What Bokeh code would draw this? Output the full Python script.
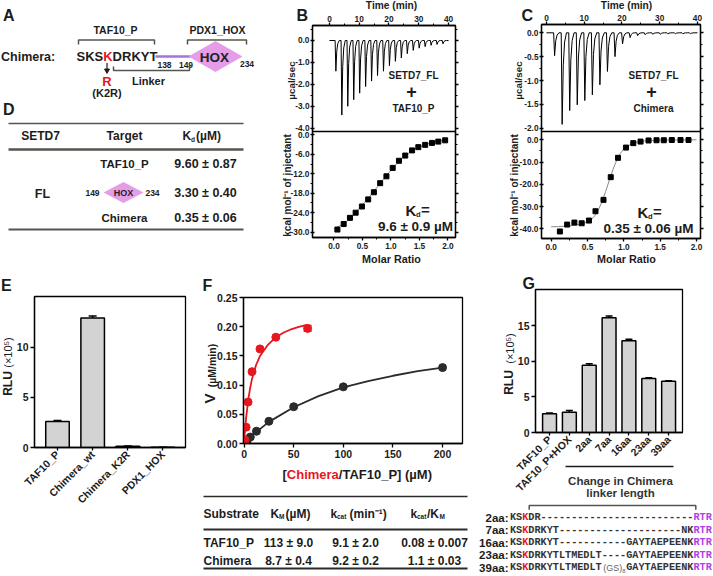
import math
from bokeh.plotting import figure
from bokeh.layouts import column
from bokeh.models import (Range1d, LinearAxis, FixedTicker, PrintfTickFormatter,
                          Whisker, TeeHead, ColumnDataSource)
from bokeh.core.properties import value
from bokeh.embed import file_html
from bokeh.resources import INLINE

# ---------------------------------------------------------------- data
# D: binding table
d_targets = ["TAF10_P", "HOX", "Chimera"]
d_kd = [9.60, 3.30, 0.35]
d_kd_err = [0.87, 0.40, 0.06]

# B / C: raw ITC thermograms (injection time, min ; peak, ucal/sec)
inj_time = [2, 4, 6, 8, 10, 12, 14, 16, 18, 20, 22, 24, 26, 28, 30, 32, 34, 36, 38]
b_raw = [-1.40, -3.40, -3.00, -2.70, -2.40, -2.10, -1.85, -1.60, -1.40, -1.15,
         -0.95, -0.80, -0.60, -0.45, -0.35, -0.28, -0.22, -0.18, -0.15]
c_raw = [-0.48, -1.92, -1.63, -1.51, -1.42, -1.30, -1.09, -0.81, -0.50, -0.23,
         -0.10, -0.06, -0.04, -0.03, -0.03, -0.02, -0.02, -0.02, -0.02]

# B / C: integrated heats (molar ratio ; kcal/mol of injectant)
b_ratio = [0.06, 0.17, 0.28, 0.38, 0.49, 0.60, 0.70, 0.81, 0.92, 1.03, 1.14, 1.25,
           1.37, 1.48, 1.60, 1.72, 1.83, 1.95]
b_heat = [-29.2, -27.5, -25.6, -24.0, -22.1, -19.9, -17.7, -14.9, -12.8, -10.2, -8.0,
          -6.4, -4.8, -3.8, -3.1, -2.5, -2.1, -1.7]
b_fit_ratio = [0.0, 0.1, 0.2, 0.3, 0.4, 0.5, 0.6, 0.7, 0.8, 0.9, 1.0, 1.1, 1.2, 1.3,
               1.4, 1.5, 1.6, 1.7, 1.8, 1.9, 2.0]
b_fit_heat = [-28.9, -28.1, -27.0, -25.5, -23.6, -21.6, -19.6, -17.4, -15.2, -13.0,
              -10.9, -8.9, -7.2, -5.8, -4.6, -3.7, -3.0, -2.5, -2.1, -1.8, -1.6]
c_ratio = [0.12, 0.22, 0.32, 0.42, 0.52, 0.61, 0.72, 0.82, 0.92, 1.03, 1.13, 1.23,
           1.34, 1.45, 1.55, 1.66, 1.78, 1.89]
c_heat = [-41.2, -38.1, -37.2, -37.5, -36.3, -32.1, -27.0, -16.8, -8.1, -3.5, -1.5,
          -0.8, -0.3, -0.2, -0.2, -0.1, -0.1, -0.1]
c_fit_ratio = [0.0, 0.1, 0.2, 0.3, 0.4, 0.5, 0.55, 0.6, 0.65, 0.7, 0.75, 0.8, 0.85,
               0.9, 0.95, 1.0, 1.1, 1.2, 1.3, 1.5, 1.7, 2.0]
c_fit_heat = [-39.1, -39.0, -38.8, -38.5, -38.0, -37.0, -36.0, -34.2, -31.5, -27.8,
              -23.2, -18.2, -13.4, -9.3, -6.2, -4.1, -1.9, -0.9, -0.45, -0.15, -0.05, 0.0]

# E: luciferase assay
e_cats = ["TAF10_P", "Chimera_wt", "Chimera_K2R", "PDX1_HOX"]
e_vals = [2.6, 12.9, 0.12, 0.03]
e_errs = [0.08, 0.2, 0.03, 0.0]

# F: kinetics
taf_s = [0, 3.125, 6.25, 12.5, 25, 50, 100, 200]
taf_v = [0.0, 0.005, 0.011, 0.021, 0.038, 0.063, 0.097, 0.130]
chi_s = [0, 1, 2, 4, 8, 16, 32, 64]
chi_v = [0.001, 0.006, 0.028, 0.071, 0.123, 0.162, 0.182, 0.197]
chi_err = [0, 0, 0, 0, 0, 0, 0, 0.005]
taf_fit_s = [0, 10, 25, 50, 75, 100, 125, 150, 175, 200]
taf_fit_v = [0.0, 0.0165, 0.037, 0.062, 0.081, 0.096, 0.107, 0.116, 0.124, 0.130]
chi_fit_s = [0, 1, 2, 4, 6, 8, 12, 16, 24, 32, 40, 48, 56, 64]
chi_fit_v = [0.0, 0.024, 0.043, 0.073, 0.094, 0.111, 0.134, 0.150, 0.169, 0.182,
             0.190, 0.196, 0.200, 0.203]
f_substrates = ["TAF10_P", "Chimera"]
f_km = ["113 ± 9.0", "8.7 ± 0.4"]
f_kcat = ["9.1 ± 2.0", "9.2 ± 0.2"]
f_eff = ["0.08 ± 0.007", "1.1 ± 0.03"]

# G: linker length series
g_cats = ["TAF10_P", "TAF10_P+HOX", "2aa", "7aa", "16aa", "23aa", "39aa"]
g_vals = [2.65, 2.85, 9.45, 16.1, 12.9, 7.6, 7.2]
g_errs = [0.08, 0.25, 0.2, 0.25, 0.2, 0.1, 0.08]
seq_names = ["2aa", "7aa", "16aa", "23aa", "39aa"]
seq_texts = [
    "KSKDR" "-----" "-----" "-----" "-----" "-----" "RTR",
    "KSKDRKYT" "-----" "-----" "-----" "-----" "NK" "RTR",
    "KSKDRKYT" "-----" "-----" "-" "GAYTAEPEENK" "RTR",
    "KSKDRKYTLTMEDLT" "----" "GAYTAEPEENK" "RTR",
    "KSKDRKYTLTMEDLT" "####" "GAYTAEPEENK" "RTR",
]

# ---------------------------------------------------------------- style
W, H = 713, 576
SANS = "Liberation Sans"
MONO = "Liberation Mono"
INK = "#1c1c1c"
RULE = "#55554d"
RED = "#e8161d"
PURPLE = "#b13fe3"
LINKER = "#a673d9"
HOXFILL = "#e49de6"
BAR = "#d3d3d3"
DARK = "#2b2b2b"


def X(v):
    return int(round(v))


def Y(v):
    return int(round(v))


def px(s):
    return f"{s:.2f}px"


def base_fig(box, frame, xr, yr):
    x0, x1, y0, y1 = box
    fl, fr, ft, fb = frame
    p = figure(width=X(x1) - X(x0), height=Y(y1) - Y(y0),
               x_range=Range1d(*xr), y_range=Range1d(*yr),
               output_backend="svg", toolbar_location=None,
               x_axis_location=None, y_axis_location=None,
               min_border=0,
               min_border_left=X(fl) - X(x0), min_border_right=X(x1) - X(fr),
               min_border_top=Y(ft) - Y(y0), min_border_bottom=Y(y1) - Y(fb))
    p.xgrid.visible = False
    p.ygrid.visible = False
    return p


charts = []


def chart(box, frame, xr, yr):
    p = base_fig(box, frame, xr, yr)
    p.border_fill_color = None
    p.background_fill_color = None
    p.outline_line_color = "black"
    p.outline_line_width = 1.3
    charts.append((p, box))
    return p


def ctext(p, x, y, s, size, color=INK, align="center", font=SANS, style="bold", angle=0.0):
    p.text(x=[x], y=[y], text=[s], text_font=value(font), text_font_size=px(size),
           text_font_style=style, text_color=color, text_align=align,
           text_baseline="middle", angle=angle)


def axis(p, side, ticks, minor=(), fmt=None, size=9.0, show=True, tick_out=3, tick_in=0,
         overrides=None, orient=None, standoff=2):
    ax = LinearAxis(ticker=FixedTicker(ticks=list(ticks), minor_ticks=list(minor)))
    ax.axis_line_color = "black"
    ax.axis_line_width = 1.3
    ax.major_tick_line_color = "black"
    ax.major_tick_line_width = 1.3
    ax.major_tick_in = tick_in
    ax.major_tick_out = tick_out
    ax.minor_tick_line_color = "black" if len(minor) else None
    ax.minor_tick_line_width = 1
    ax.minor_tick_in = 0
    ax.minor_tick_out = 2
    ax.major_label_standoff = standoff
    ax.major_label_text_font = SANS
    ax.major_label_text_font_style = "bold"
    ax.major_label_text_color = INK
    ax.major_label_text_font_size = px(size)
    if fmt:
        ax.formatter = PrintfTickFormatter(format=fmt)
    if not show:
        ax.major_label_overrides = {t: "" for t in ticks}
        ax.major_label_standoff = 0
    elif overrides:
        ax.major_label_overrides = overrides
    if orient is not None:
        ax.major_label_orientation = orient
    p.add_layout(ax, side)
    return ax


def thermo(times, peaks):
    xs, ys = [0.0], [0.0]
    for t, h in zip(times, peaks):
        xs += [t - 0.1, t + 0.15, t + 0.45, t + 0.8, t + 1.3]
        ys += [0.0, h, 0.35 * h, 0.1 * h, 0.0]
    xs.append(40.0)
    ys.append(0.0)
    return xs, ys


# ---------------------------------------------------------------- page canvas
page = base_fig((0, W, 0, H), (0, W, 0, H), (0, W), (H, 0))
page.outline_line_color = None
page.border_fill_color = "white"
page.background_fill_color = "white"
pg = page

# ---- A
ctext(pg, 2.5, 15, "A", 16, align="left")
ctext(pg, 115, 29, "TAF10_P", 10.5)
ctext(pg, 217, 29, "PDX1_HOX", 10.5)
pg.line([78, 78, 154, 154], [44, 39.5, 39.5, 44], line_color=RULE, line_width=1.5)
pg.line([187, 187, 246, 246], [44, 39.5, 39.5, 44], line_color=RULE, line_width=1.5)
ctext(pg, 0.5, 56, "Chimera:", 12.5, align="left")
pg.line([155, 190], [56, 56], line_color=LINKER, line_width=2.5)
pg.patch([188, 215, 242, 215], [56, 40.5, 56, 71.5], fill_color=HOXFILL, line_color=None)
ctext(pg, 76, 56, "SKS", 13, align="left")
ctext(pg, 102.7, 56, "K", 13, color=RED, align="left")
ctext(pg, 112.1, 56, "DRKYT", 13, align="left")
ctext(pg, 214, 56.5, "HOX", 13.5, color="#222222")
ctext(pg, 164, 64.5, "138", 8.5)
ctext(pg, 185.5, 64.5, "149", 8.5)
ctext(pg, 246.5, 63.5, "234", 8.5)
pg.line([113, 113, 189, 189], [66, 70, 70, 65.5], line_color=RULE, line_width=1.5)
ctext(pg, 148, 80, "Linker", 11)
pg.line([106.5, 106.5], [62.5, 69], line_color=INK, line_width=1.2)
pg.scatter([106.5], [70], marker="inverted_triangle", size=5, color=INK)
ctext(pg, 106.5, 80.5, "R", 13, color=RED)
ctext(pg, 106.5, 92.5, "(K2R)", 11)

# ---- D
ctext(pg, 2.5, 109, "D", 16, align="left")
pg.line([8, 243], [123, 123], line_color=RULE, line_width=1.3)
ctext(pg, 40, 135.5, "SETD7", 12)
ctext(pg, 124, 135.5, "Target", 12)
ctext(pg, 182, 135.5, "K", 12, align="left")
ctext(pg, 190.5, 138.5, "d", 6.5, align="left")
ctext(pg, 195.5, 135.5, "(µM)", 12, align="left")
pg.line([8, 243], [149, 149], line_color=RULE, line_width=2.5)
row_y = [163, 192, 217]
for i, (tg, kd, er) in enumerate(zip(d_targets, d_kd, d_kd_err)):
    yy = row_y[i]
    if tg == "HOX":
        pg.patch([103, 123, 143, 123], [yy, yy - 10.5, yy, yy + 10.5],
                 fill_color=HOXFILL, line_color=None)
        ctext(pg, 123, yy, "HOX", 9, color="#222222")
        ctext(pg, 92, yy, "149", 8.5)
        ctext(pg, 152, yy, "234", 8.5)
    else:
        ctext(pg, 124, yy, tg, 11.5)
    ctext(pg, 205, yy, f"{kd:.2f} ± {er:.2f}", 12.5)
ctext(pg, 42, 193, "FL", 12.5)
pg.line([8, 243], [229, 229], line_color=RULE, line_width=2)

# ---- B / C texts
for (lx, mid, ylab, txt, partner, kx, ky, kc, kdtext, letter) in [
        (296, 391, 291, 413, "TAF10_P", 405, 210, 415, "9.6 ± 0.9 µM", "B"),
        (521, 626, 518, 653, "Chimera", 637, 212, 648, "0.35 ± 0.06 µM", "C")]:
    ctext(pg, lx, 15, letter, 16, align="left")
    ctext(pg, mid, 5, "Time (min)", 10.2)
    ctext(pg, mid, 258, "Molar Ratio", 10.8)
    ctext(pg, ylab, 80, "µcal/sec", 9.8, angle=math.pi / 2)
    ctext(pg, ylab - 4, 185, "kcal mol⁻¹ of injectant", 10, angle=math.pi / 2)
    ctext(pg, txt, 75, "SETD7_FL", 10)
    ctext(pg, txt - 2, 91, "+", 18)
    ctext(pg, txt, 108, partner, 10)
    ctext(pg, kx, ky, "K", 15, align="left")
    ctext(pg, kx + 10.5, ky + 4, "d", 7.5, align="left")
    ctext(pg, kx + 15.5, ky - 1, "=", 15, align="left")
    ctext(pg, kc, ky + 15.5, kdtext, 13.5)

# ---- E texts
ctext(pg, 0.5, 285, "E", 16, align="left")
ctext(pg, 7, 383, "RLU", 12, angle=math.pi / 2)
ctext(pg, 7.5, 352, "(×10⁵)", 11, style="normal", angle=math.pi / 2)

# ---- F texts + table
ctext(pg, 202, 285, "F", 16, align="left")
ctext(pg, 208.5, 398, "V", 15, angle=math.pi / 2)
ctext(pg, 211.5, 365, "(µM/min)", 10.5, angle=math.pi / 2)
ctext(pg, 282, 474, "[", 13, align="left")
ctext(pg, 286.3, 474, "Chimera", 13, color=RED, align="left")
ctext(pg, 338.3, 474, "/TAF10_P] (µM)", 13, align="left")
pg.line([203, 467], [496, 496], line_color=DARK, line_width=1.5)
pg.line([203, 467], [529, 529], line_color=DARK, line_width=1.8)
pg.line([203, 467], [568, 568], line_color=DARK, line_width=1.8)
ctext(pg, 203, 513, "Substrate", 12, align="left")
ctext(pg, 270, 513, "K", 12, align="left")
ctext(pg, 278.5, 516, "M", 6.5, align="left")
ctext(pg, 285, 513, "(µM)", 12, align="left")
ctext(pg, 330, 513, "k", 12, align="left")
ctext(pg, 336.5, 516, "cat", 6.5, align="left")
ctext(pg, 349, 513, "(min⁻¹)", 12, align="left")
ctext(pg, 410, 513, "k", 12, align="left")
ctext(pg, 416.5, 516, "cat", 6.5, align="left")
ctext(pg, 426.5, 513, "/K", 12, align="left")
ctext(pg, 439, 516, "M", 6.5, align="left")
for i, yy in enumerate([542, 560]):
    ctext(pg, 203, yy, f_substrates[i], 12, align="left")
    ctext(pg, 288, yy, f_km[i], 12)
    ctext(pg, 355, yy, f_kcat[i], 12)
    ctext(pg, 434, yy, f_eff[i], 12)

# ---- G texts + sequences
ctext(pg, 522, 282.5, "G", 16, align="left")
ctext(pg, 508.5, 382, "RLU", 12, angle=math.pi / 2)
ctext(pg, 509, 348, "(×10⁵)", 11, style="normal", angle=math.pi / 2)
pg.line([565, 673], [466, 466], line_color=INK, line_width=1.5)
ctext(pg, 620, 480, "Change in Chimera", 11.5, color="#333333")
ctext(pg, 620, 492.5, "linker length", 11.5, color="#333333")
pg.line([528.7, 528.7, 695.3, 695.3], [509.3, 505, 505, 509.3], line_color=RULE, line_width=1.5)
NB = "\u00a0"
SEQ_X0 = 509.5
MONO_SIZE = 10.2
CW = 0.6 * MONO_SIZE
for i, (nm, sq) in enumerate(zip(seq_names, seq_texts)):
    yy = 517 + i * 12.5
    ctext(pg, 508, yy, nm + ":", 11.5, align="right")
    n = len(sq)
    black = "".join(NB if (j == 2 or j >= n - 3 or ch == "#") else ch for j, ch in enumerate(sq))
    red = NB * 2 + sq[2]
    purple = NB * (n - 3) + sq[n - 3:]
    for txt, col in ((black, "#333333"), (red, RED), (purple, PURPLE)):
        pg.text(x=[SEQ_X0], y=[yy], text=[txt], text_font=value(MONO),
                text_font_size=px(MONO_SIZE), text_font_style="bold", text_color=col,
                text_align="left", text_baseline="middle")
    if "#" in sq:
        k = sq.index("#")
        ctext(pg, SEQ_X0 + k * CW + 1.5, yy, "(GS)", 9, color="#666666", align="left",
              style="normal")
        ctext(pg, SEQ_X0 + k * CW + 20.5, yy + 3, "8", 6, color="#666666", align="left",
              style="normal")


# ---------------------------------------------------------------- ITC charts
def itc(x0, x1, fr_l, fr_r, t_xr, up_yr, low_xr, low_yr, frame_top, frame_bot,
        raw, ratio, heat, fit_x, fit_y, up_ticks, up_minor, low_ticks, low_minor):
    up = chart((x0, x1, 0, 132), (fr_l, fr_r, frame_top, 131), t_xr, up_yr)
    axis(up, "above", [0, 10, 20, 30, 40], [5, 15, 25, 35], size=8.3, standoff=1)
    axis(up, "left", up_ticks, up_minor, fmt="%.1f", size=8.3, standoff=1,
         tick_out=2, tick_in=2)
    axis(up, "right", up_ticks, up_minor, show=False)
    tx, ty = thermo(inj_time, raw)
    up.line(tx, ty, line_color="black", line_width=1)

    lo = chart((x0, x1, 131, 276), (fr_l, fr_r, 131, frame_bot), low_xr, low_yr)
    axis(lo, "below", [0, 0.5, 1.0, 1.5, 2.0], [0.25, 0.75, 1.25, 1.75], fmt="%.1f",
         size=8.3, standoff=2)
    axis(lo, "left", low_ticks, low_minor, fmt="%.1f", size=8.3, standoff=1,
         tick_out=2, tick_in=2)
    axis(lo, "right", low_ticks, low_minor, show=False)
    lo.line(fit_x, fit_y, line_color="#8a8a8a", line_width=1)
    lo.scatter(ratio, heat, marker="square", size=5, color="black")


itc(262, 488, 312, 455, (-5.7, 42.35), (-4.15, 0.684), (-0.377, 2.132), (-31.65, 1.02),
    25, 237, b_raw, b_ratio, b_heat, b_fit_ratio, b_fit_heat,
    [0, -1, -2, -3, -4], [0.5, -0.5, -1.5, -2.5, -3.5],
    [0, -6, -12, -18, -24, -30], [-3, -9, -15, -21, -27])
itc(488, 713, 541, 700, (-1.32, 40.8), (-2.069, 0.174), (-0.133, 2.055), (-44.36, 3.73),
    24, 238, c_raw, c_ratio, c_heat, c_fit_ratio, c_fit_heat,
    [0, -0.5, -1.0, -1.5, -2.0], [-0.25, -0.75, -1.25, -1.75],
    [0, -10, -20, -30, -40], [-5, -15, -25, -35])

# ---------------------------------------------------------------- E
e = chart((0, 200, 276, 576), (34, 185, 296, 447), (-0.654, 3.64), (0, 15.05))
e_pos = list(range(len(e_cats)))
axis(e, "left", [0, 5, 10], size=10.5, tick_out=4)
axis(e, "below", e_pos, size=10.5, tick_out=3,
     overrides={i: c for i, c in enumerate(e_cats)}, orient=math.pi / 4)
esrc = ColumnDataSource(dict(x=e_pos, top=e_vals, up=[v + s for v, s in zip(e_vals, e_errs)]))
e.vbar(x="x", top="top", width=0.67, bottom=0, source=esrc, fill_color=BAR,
       line_color="black", line_width=1.5)
e.add_layout(Whisker(source=esrc, base="x", upper="up", lower="top", dimension="height",
                     line_color="black", line_width=1.5,
                     upper_head=TeeHead(size=8, line_width=1.5, line_color="black"),
                     lower_head=None))

# ---------------------------------------------------------------- F
f = chart((200, 478, 276, 490), (242.7, 462.3, 296.7, 443.3), (-0.6, 220.1), (0, 0.25))
axis(f, "left", [0, 0.05, 0.10, 0.15, 0.20, 0.25], fmt="%.2f", size=10.5, tick_out=4)
axis(f, "below", [0, 50, 100, 150, 200], size=10.5, tick_out=4)
f.line(taf_fit_s, taf_fit_v, line_color=DARK, line_width=1.8)
f.line(chi_fit_s, chi_fit_v, line_color=RED, line_width=1.8)
f.scatter(taf_s, taf_v, size=8, color=DARK)
f.scatter(chi_s, chi_v, size=8, color=RED)
fsrc = ColumnDataSource(dict(x=chi_s[-1:], lo=[chi_v[-1] - chi_err[-1]],
                             hi=[chi_v[-1] + chi_err[-1]]))
f.add_layout(Whisker(source=fsrc, base="x", upper="hi", lower="lo", dimension="height",
                     line_color=RED, line_width=1.5,
                     upper_head=TeeHead(size=8, line_width=1.5, line_color=RED),
                     lower_head=TeeHead(size=8, line_width=1.5, line_color=RED)))

# ---------------------------------------------------------------- G
g = chart((478, 713, 276, 500), (535, 681.7, 289.3, 434.3), (-0.707, 6.70), (0, 20.08))
g_pos = list(range(len(g_cats)))
axis(g, "left", [0, 5, 10, 15], size=10.5, tick_out=4)
axis(g, "below", g_pos, size=10.5, tick_out=3,
     overrides={i: c for i, c in enumerate(g_cats)}, orient=math.pi / 4)
gsrc = ColumnDataSource(dict(x=g_pos, top=g_vals, up=[v + s for v, s in zip(g_vals, g_errs)]))
g.vbar(x="x", top="top", width=0.7, bottom=0, source=gsrc, fill_color=BAR,
       line_color="black", line_width=1.5)
g.add_layout(Whisker(source=gsrc, base="x", upper="up", lower="top", dimension="height",
                     line_color="black", line_width=1.5,
                     upper_head=TeeHead(size=7, line_width=1.5, line_color="black"),
                     lower_head=None))

# ---------------------------------------------------------------- layout
wrapped = [column(p, spacing=0,
                  styles={"position": "absolute", "left": f"{X(b[0])}px", "top": f"{Y(b[2])}px"})
           for p, b in charts]
layout = column(page, *wrapped, spacing=0, styles={"position": "relative"})

open("out.html", "w").write(file_html(layout, INLINE))
